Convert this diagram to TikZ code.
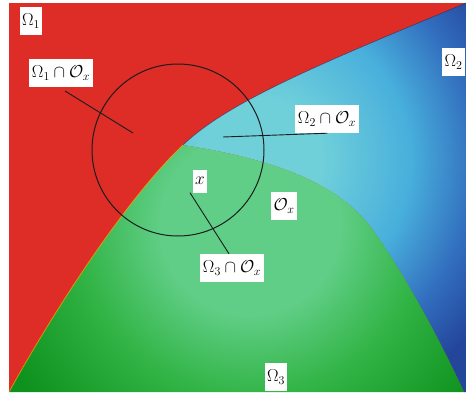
\documentclass[tikz,border=0pt]{standalone}
\usepackage{amsmath}
\definecolor{redR}{RGB}{222,44,38}
\definecolor{cyanL}{RGB}{112,208,218}
\definecolor{blueM}{RGB}{72,175,220}
\definecolor{blueD}{RGB}{50,110,190}
\definecolor{blueDD}{RGB}{35,70,155}
\definecolor{greenL}{RGB}{96,206,134}
\definecolor{greenM}{RGB}{50,180,70}
\definecolor{greenD}{RGB}{15,145,30}
\definecolor{inkc}{RGB}{25,30,30}
\pgfdeclareradialshading{blueshade}{\pgfpoint{0bp}{0bp}}{color(0bp)=(cyanL); color(60bp)=(cyanL); color(150bp)=(blueM); color(215bp)=(blueD); color(270bp)=(blueDD); color(420bp)=(blueDD)}
\pgfdeclareradialshading{greenshade}{\pgfpoint{0bp}{0bp}}{color(0bp)=(greenL); color(90bp)=(greenL); color(170bp)=(greenM); color(275bp)=(greenD); color(420bp)=(greenD)}
\begin{document}
\begin{tikzpicture}[x=1pt,y=-1pt,
  lbl/.style={fill=white, inner xsep=2.5pt, inner ysep=0pt, minimum height=28pt, font=\fontsize{17}{20}\selectfont},
  ptr/.style={draw=inkc, line width=0.9pt}]
\useasboundingbox (0,0) rectangle (466,394);
\fill[white] (0,0) rectangle (466,394);
\fill[redR] (9,3) rectangle (466,392);
% blue region
\begin{scope}
\clip (466,3) .. controls (330,60) and (230,100) .. (183,145) .. controls (280,160) and (340,185) .. (373,230) .. controls (405,275) and (440,340) .. (464,392) -- (466,392) -- cycle;
\node[inner sep=0pt] (bsh) at (260,160) {\pgfuseshading{blueshade}};
\end{scope}
% green region
\begin{scope}
\clip (183,145) .. controls (280,160) and (340,185) .. (373,230) .. controls (405,275) and (440,340) .. (464,392) -- (9,392) .. controls (60,300) and (130,195) .. (183,145) -- cycle;
\node[inner sep=0pt] (gsh) at (250,225) {\pgfuseshading{greenshade}};
\end{scope}
% boundary accents
\draw[blueDD!60!black, line width=0.6pt, opacity=0.6] (466,3) .. controls (330,60) and (230,100) .. (183,145);
\draw[orange!70!yellow, line width=0.8pt, opacity=0.7] (183,145) .. controls (130,195) and (60,300) .. (9,392);
% neighbourhood circle
\node[circle, draw=inkc, line width=1pt, minimum size=172pt, inner sep=0pt] (circ) at (178,150) {};
% labels
\node[lbl] (o1) at (31,21) {$\Omega_1$};
\node[lbl] (l1) at (61,73) {$\Omega_1\cap\mathcal{O}_x$};
\node[lbl] (l2) at (327,119) {$\Omega_2\cap\mathcal{O}_x$};
\node[lbl, anchor=west] (o2) at (442,62) {$\Omega_2$};
\node[lbl, minimum height=23pt, inner xsep=2pt] (lx) at (200,181) {$x$};
\node[lbl] (ox) at (284,206) {$\mathcal{O}_x$};
\node[lbl] (l3) at (232,268) {$\Omega_3\cap\mathcal{O}_x$};
\node[lbl] (o3) at (276,377) {$\Omega_3$};
% pointers
\coordinate (a1) at (65,91);
\coordinate (b1) at (133,133);
\coordinate (b2) at (223,137);
\draw[ptr] (a1) -- (b1);
\draw[ptr] (b2) -- ([xshift=32pt]l2.south west);
\draw[ptr] ([xshift=-3pt]lx.south west) -- ([xshift=-3pt]l3.north);
\end{tikzpicture}
\end{document}
